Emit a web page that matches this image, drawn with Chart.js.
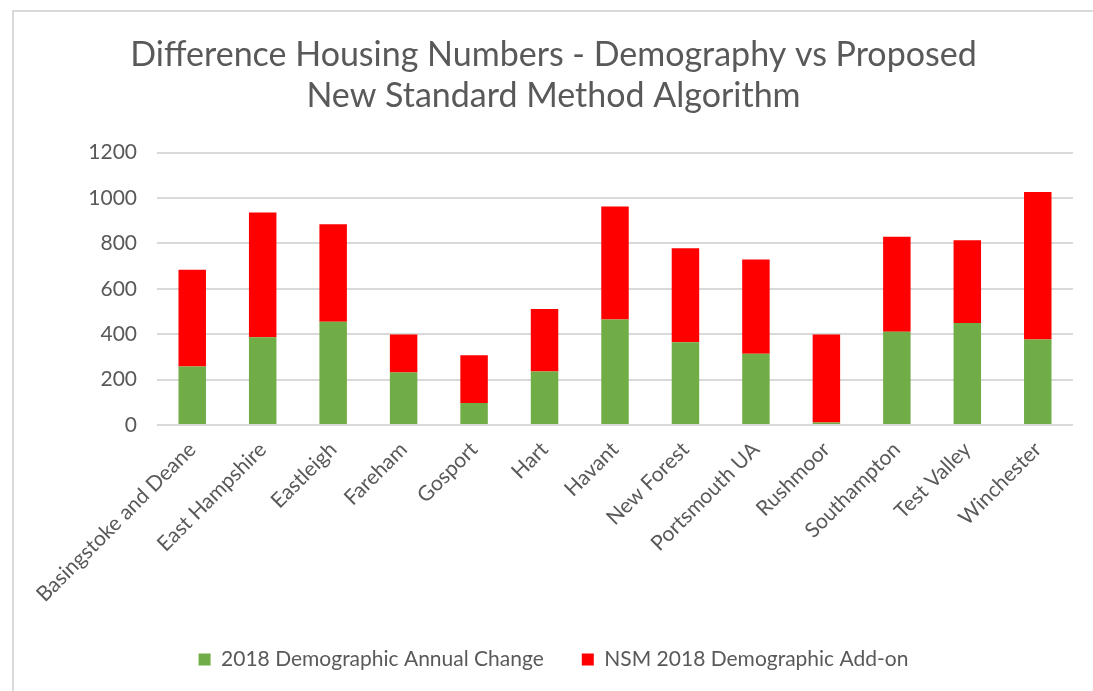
<!DOCTYPE html>
<html>
<head>
<meta charset="utf-8">
<script src="https://cdn.jsdelivr.net/npm/chart.js@4"></script>
<style>
  body { margin: 0; background: #fff; }
  #frame { position: absolute; left: 12px; top: 10px; width: 1081px; height: 681px;
           border-left: 2px solid #d9d9d9; border-top: 2px solid #d9d9d9; box-sizing: border-box; }
  #chart { display: block; }
</style>
</head>
<body>
<div id="frame"><canvas id="chart" width="1079" height="679"></canvas></div>
<script>
const districts = ['Basingstoke and Deane', 'East Hampshire', 'Eastleigh', 'Fareham', 'Gosport', 'Hart',
  'Havant', 'New Forest', 'Portsmouth UA', 'Rushmoor', 'Southampton', 'Test Valley', 'Winchester']
// green part of each bar
const annualChange = [258, 387, 455, 232, 97, 236, 465, 365, 314, 12, 411, 450, 377]
// red part stacked on top
const nsmAddOn = [426, 549, 430, 167, 211, 275, 498, 414, 415, 387, 418, 364, 649]
const yTicks = [0, 200, 400, 600, 800, 1000, 1200]

const grey = '#595959'
const font = 'Lato, "Open Sans", sans-serif'

const data = {
  labels: districts,
  datasets: [{
    label: '2018 Demographic Annual Change',
    backgroundColor: '#70ad47',
    data: annualChange,
  },
  {
    label: 'NSM 2018 Demographic Add-on',
    backgroundColor: '#ff0000',
    data: nsmAddOn,
  }]
}

const options = {
  responsive: false,
  animation: false,
  datasets: { bar: { categoryPercentage: 1, barPercentage: 0.39 } },
  layout: { padding: { left: 20, right: 20, top: 23, bottom: 11 } },
  plugins: {
    title: {
      display: true,
      text: ['Difference Housing Numbers - Demography vs Proposed', 'New Standard Method Algorithm'],
      color: grey,
      font: { family: font, size: 34, weight: 'normal' },
      lineHeight: 1.4,
      padding: { top: 0, bottom: 36 }
    },
    legend: {
      position: 'bottom',
      labels: {
        color: grey,
        font: { family: font, size: 21 },
        boxWidth: 12, boxHeight: 12,
        padding: 38
      }
    },
    tooltip: { enabled: false }
  },
  scales: {
    x: {
      stacked: true,
      grid: { display: false },
      border: { display: false },
      ticks: { color: grey, font: { family: font, size: 21 }, minRotation: 45, maxRotation: 45, padding: 4 }
    },
    y: {
      stacked: true,
      min: 0, max: 1200,
      afterBuildTicks: axis => { axis.ticks = yTicks.map(v => ({ value: v })) },
      afterFit: axis => { axis.width = 123 },
      grid: { color: '#d9d9d9', lineWidth: 2, drawTicks: false },
      border: { display: false },
      ticks: { color: grey, font: { family: font, size: 21 }, padding: 20, callback: v => String(v) }
    }
  }
}

new Chart(document.getElementById('chart'), { type: 'bar', data: data, options: options })
</script>
</body>
</html>
